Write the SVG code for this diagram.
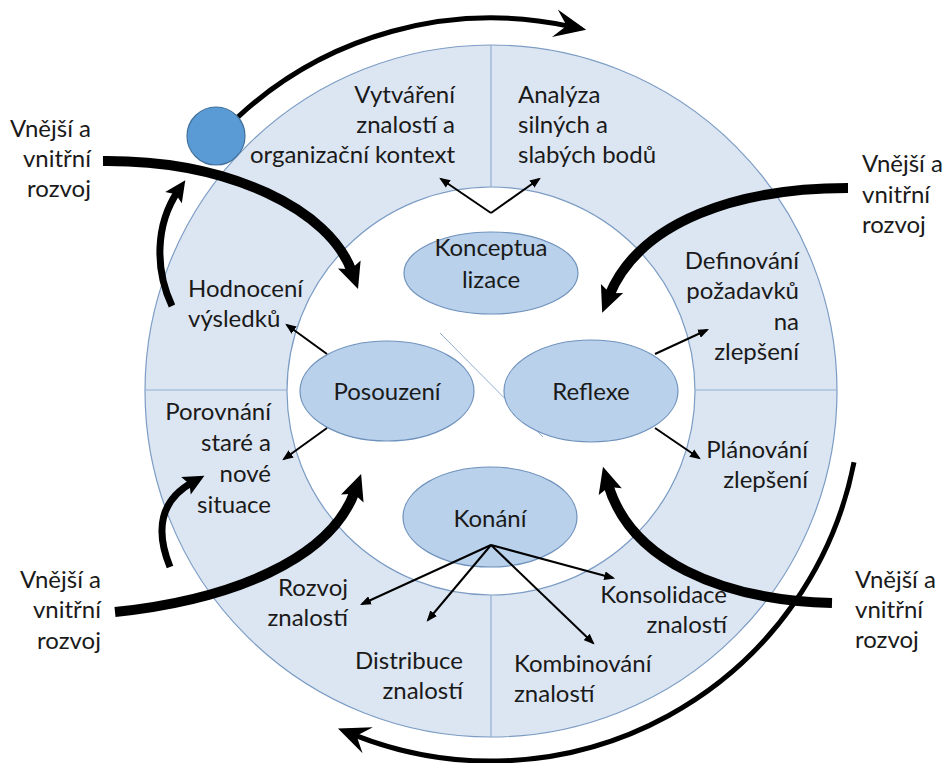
<svg xmlns="http://www.w3.org/2000/svg" width="944" height="763" viewBox="0 0 944 763">
<style>
  text { font-family: Lato, "Liberation Sans", sans-serif; font-size: 24px; fill: #1a1a1a; }
  .e { text-anchor: end; }
  .m { text-anchor: middle; }
  .ring { fill: #dce6f2; stroke: #7c9cc4; stroke-width: 1.2; }
  .hole { fill: #ffffff; stroke: #7c9cc4; stroke-width: 1.2; }
  .div { stroke: #8fadd2; stroke-width: 1.2; fill: none; }
  .ell { fill: #b9d1ea; stroke: #6f92bd; stroke-width: 1.2; }
  .thin { stroke: #000; stroke-width: 2; fill: none; marker-end: url(#tri); }
  .big { stroke: #000; stroke-width: 10; fill: none; marker-end: url(#bigHead); }
  .mid { stroke: #000; stroke-width: 7; fill: none; marker-end: url(#midHead); }
  .arc { stroke: #000; stroke-width: 5; fill: none; marker-end: url(#stealth); }
</style>
<defs>
  <marker id="tri" viewBox="0 0 10 8" refX="8" refY="4" markerWidth="11" markerHeight="9" markerUnits="userSpaceOnUse" orient="auto">
    <path d="M0,0 L10,4 L0,8 z" fill="#000"/>
  </marker>
  <marker id="bigHead" viewBox="-28 -14 30 28" refX="-18" refY="0" markerWidth="30" markerHeight="28" markerUnits="userSpaceOnUse" orient="auto">
    <path d="M0,0 L-26,-12 L-21,0 L-26,12 z" fill="#000"/>
  </marker>
  <marker id="midHead" viewBox="-24 -12 26 24" refX="-13" refY="0" markerWidth="26" markerHeight="24" markerUnits="userSpaceOnUse" orient="auto">
    <path d="M0,0 L-21,-10 L-17,0 L-21,10 z" fill="#000"/>
  </marker>
  <marker id="stealth" viewBox="-34 -16 36 32" refX="-18" refY="0" markerWidth="36" markerHeight="32" markerUnits="userSpaceOnUse" orient="auto">
    <path d="M0,0 L-32,-14 L-20,0 L-32,14 z" fill="#000"/>
  </marker>
</defs>

<g id="background-ring">
  <circle class="ring" cx="491" cy="391" r="346"/>
  <circle class="hole" cx="491" cy="391" r="204"/>
  <line class="div" x1="491" y1="45" x2="491" y2="187"/>
  <line class="div" x1="145" y1="390" x2="287" y2="390"/>
  <line class="div" x1="695" y1="390" x2="837" y2="390"/>
  <line class="div" x1="491" y1="595" x2="491" y2="737"/>
  <line x1="440" y1="333" x2="543" y2="437" stroke="#8fadd2" stroke-width="1"/>
</g>

<g id="konceptualizace">
  <ellipse class="ell" cx="491" cy="273" rx="87" ry="41"/>
  <text class="m" x="491" y="256">Konceptua</text>
  <text class="m" x="491" y="288">lizace</text>
</g>
<g id="posouzeni">
  <ellipse class="ell" cx="387" cy="391" rx="87" ry="50"/>
  <text class="m" x="387" y="400">Posouzení</text>
</g>
<g id="reflexe">
  <ellipse class="ell" cx="591" cy="391" rx="87" ry="51"/>
  <text class="m" x="591" y="400">Reflexe</text>
</g>
<g id="konani">
  <ellipse class="ell" cx="490" cy="517" rx="87" ry="50"/>
  <text class="m" x="490" y="527">Konání</text>
</g>

<g id="connectors">
  <path class="arc" d="M238.1,116.8 A373,373 0 0 1 568.6,26.1"/>
  <path class="arc" d="M854,462.2 A370,370 0 0 1 354.7,735.1"/>
  <path class="big" d="M103,161 C230,160 330,210 352,272"/>
  <path class="mid" d="M172,306 C155,270 155,225 178,191"/>
  <path class="mid" d="M170,567 C155,530 160,500 193,482"/>
  <path class="big" d="M115,612 C230,600 330,560 355,491"/>
  <path class="big" d="M848,188 C740,188 640,220 609,296"/>
  <path class="big" d="M832,603 C720,600 630,560 608,484"/>
  <line class="thin" x1="491" y1="213" x2="441" y2="179"/>
  <line class="thin" x1="491" y1="213" x2="539" y2="179"/>
  <line class="thin" x1="327" y1="354" x2="287" y2="325"/>
  <line class="thin" x1="327" y1="428" x2="284" y2="459"/>
  <line class="thin" x1="655" y1="354" x2="707" y2="330"/>
  <line class="thin" x1="655" y1="428" x2="699" y2="458"/>
  <line class="thin" x1="491" y1="545" x2="362" y2="604"/>
  <line class="thin" x1="491" y1="545" x2="428" y2="620"/>
  <line class="thin" x1="491" y1="545" x2="593" y2="643"/>
  <line class="thin" x1="491" y1="545" x2="613" y2="578"/>
</g>

<g id="start-dot">
  <circle cx="216" cy="136" r="29" fill="#5b9bd5" stroke="#41719c" stroke-width="1.2"/>
</g>

<g id="vytvareni">
  <text class="e" x="455" y="103">Vytváření</text>
  <text class="e" x="455" y="133">znalostí a</text>
  <text class="e" x="455" y="163">organizační kontext</text>
</g>
<g id="analyza">
  <text x="518" y="103">Analýza</text>
  <text x="518" y="133">silných a</text>
  <text x="518" y="163">slabých bodů</text>
</g>
<g id="hodnoceni">
  <text x="188" y="297">Hodnocení</text>
  <text x="188" y="327">výsledků</text>
</g>
<g id="porovnani">
  <text class="e" x="271" y="420">Porovnání</text>
  <text class="e" x="271" y="451">staré a</text>
  <text class="e" x="271" y="482">nové</text>
  <text class="e" x="271" y="513">situace</text>
</g>
<g id="definovani">
  <text class="e" x="799" y="269">Definování</text>
  <text class="e" x="799" y="299">požadavků</text>
  <text class="e" x="799" y="330">na</text>
  <text class="e" x="799" y="360">zlepšení</text>
</g>
<g id="planovani">
  <text class="e" x="808" y="458">Plánování</text>
  <text class="e" x="808" y="488">zlepšení</text>
</g>
<g id="rozvoj">
  <text class="e" x="348" y="596">Rozvoj</text>
  <text class="e" x="348" y="626">znalostí</text>
</g>
<g id="distribuce">
  <text class="e" x="463" y="669">Distribuce</text>
  <text class="e" x="463" y="699">znalostí</text>
</g>
<g id="konsolidace">
  <text class="e" x="727" y="603">Konsolidace</text>
  <text class="e" x="727" y="633">znalostí</text>
</g>
<g id="kombinovani">
  <text x="514" y="672">Kombinování</text>
  <text x="514" y="702">znalostí</text>
</g>

<g id="vliv-tl">
  <text class="e" x="91" y="137">Vnější a</text>
  <text class="e" x="91" y="167">vnitřní</text>
  <text class="e" x="91" y="197">rozvoj</text>
</g>
<g id="vliv-bl">
  <text class="e" x="101" y="588">Vnější a</text>
  <text class="e" x="101" y="618">vnitřní</text>
  <text class="e" x="101" y="649">rozvoj</text>
</g>
<g id="vliv-tr">
  <text x="862" y="172">Vnější a</text>
  <text x="862" y="203">vnitřní</text>
  <text x="862" y="233">rozvoj</text>
</g>
<g id="vliv-br">
  <text x="855" y="588">Vnější a</text>
  <text x="855" y="618">vnitřní</text>
  <text x="855" y="648">rozvoj</text>
</g>
</svg>
